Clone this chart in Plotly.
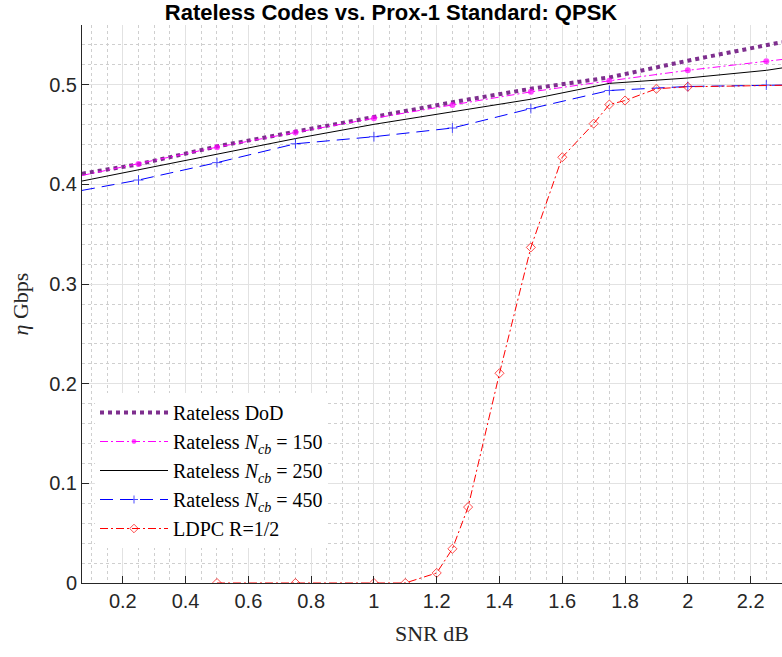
import plotly.graph_objects as go

# Throughput (Gbps) versus SNR (dB) for rateless codes and the Prox-1 LDPC code
snr = [0.07, 0.25, 0.5, 0.75, 1.0, 1.25, 1.5, 1.75, 2.0, 2.25, 2.3]
eta_dod = [0.4108, 0.4202, 0.4381, 0.4529, 0.4670, 0.4825, 0.4960, 0.5074, 0.5242, 0.5398, 0.5428]
eta_ncb150 = [0.4090, 0.4206, 0.4374, 0.4522, 0.4664, 0.4798, 0.4929, 0.5040, 0.5145, 0.5236, 0.5254]
eta_ncb250 = [0.4034, 0.4146, 0.4302, 0.4460, 0.4603, 0.4731, 0.4855, 0.5014, 0.5068, 0.5145, 0.5169]
eta_ncb450 = [0.3940, 0.4044, 0.4219, 0.4408, 0.4479, 0.4566, 0.4761, 0.4943, 0.4983, 0.4997, 0.4997]

snr_ldpc = [0.5, 0.75, 1.0, 1.1, 1.2, 1.25, 1.3, 1.4, 1.5, 1.6, 1.7, 1.75, 1.8, 1.9, 2.0, 2.3]
eta_ldpc = [0.0, 0.0, 0.0, 0.0, 0.0101, 0.0343, 0.0762, 0.2105, 0.3368, 0.4273,
            0.4610, 0.4802, 0.4842, 0.4960, 0.4980, 0.4995]

x_ticks = [0.2, 0.4, 0.6, 0.8, 1.0, 1.2, 1.4, 1.6, 1.8, 2.0, 2.2]
x_tick_text = ["0.2", "0.4", "0.6", "0.8", "1", "1.2", "1.4", "1.6", "1.8", "2", "2.2"]
y_ticks = [0, 0.1, 0.2, 0.3, 0.4, 0.5]
y_tick_text = ["0", "0.1", "0.2", "0.3", "0.4", "0.5"]

# markers only on the simulated points, not on the axis-edge points
def edge_sizes(xs, size):
    return [0 if (v < 0.2 or v > 2.29) else size for v in xs]

SERIF = "Liberation Serif"
SANS = "Liberation Sans"
AXC = "#262626"

fig = go.Figure()

fig.add_trace(go.Scatter(
    x=snr, y=eta_dod, mode="lines", name="Rateless DoD",
    line=dict(color="#7E2F8E", width=4, dash="4px,4px"),
))
fig.add_trace(go.Scatter(
    x=snr, y=eta_ncb150, mode="lines+markers",
    name="Rateless <i>N</i><sub><i>cb</i></sub> = 150",
    line=dict(color="#FF00FF", width=1, dash="8px,3px,2px,3px"),
    marker=dict(symbol="circle", size=edge_sizes(snr, 6), color="#FF00FF",
                line=dict(width=0)),
))
fig.add_trace(go.Scatter(
    x=snr, y=eta_ncb250, mode="lines",
    name="Rateless <i>N</i><sub><i>cb</i></sub> = 250",
    line=dict(color="#000000", width=1),
))
fig.add_trace(go.Scatter(
    x=snr, y=eta_ncb450, mode="lines+markers",
    name="Rateless <i>N</i><sub><i>cb</i></sub> = 450",
    line=dict(color="#0000FF", width=1, dash="13px,7px"),
    marker=dict(symbol="cross-thin", size=edge_sizes(snr, 7),
                line=dict(color="#0000FF", width=1)),
))
fig.add_trace(go.Scatter(
    x=snr_ldpc, y=eta_ldpc, mode="lines+markers", name="LDPC R=1/2",
    line=dict(color="#FF0000", width=1, dash="8px,3px,2px,3px"),
    marker=dict(symbol="diamond-open", size=edge_sizes(snr_ldpc, 7),
                color="#FF0000", line=dict(color="#FF0000", width=1)),
))

axis_common = dict(
    showline=True, linecolor=AXC, linewidth=1, mirror=False,
    ticks="inside", ticklen=7, tickcolor=AXC, tickwidth=1,
    showgrid=True, gridcolor="#E2E2E2", gridwidth=1,
    zeroline=False,
    tickfont=dict(family=SANS, size=20, color=AXC),
)

fig.update_layout(
    width=782, height=657,
    margin=dict(l=82, r=0, t=25, b=74),
    paper_bgcolor="white", plot_bgcolor="white",
    title=dict(text="<b>Rateless Codes vs. Prox-1 Standard: QPSK</b>",
               x=0.5, xref="container", xanchor="center",
               y=1 - 12 / 657, yref="container", yanchor="middle",
               font=dict(family=SANS, size=22, color="#000000")),
    xaxis=dict(
        range=[0.07, 2.3], tickmode="array", tickvals=x_ticks, ticktext=x_tick_text,
        minor=dict(dtick=0.05, tick0=0, showgrid=True, gridcolor="#CFCFCF",
                   griddash="dot", gridwidth=1, ticks=""),
        title=dict(text="SNR dB", font=dict(family=SERIF, size=22, color=AXC),
                   standoff=14),
        **axis_common,
    ),
    yaxis=dict(
        range=[0, 0.56], tickmode="array", tickvals=y_ticks, ticktext=y_tick_text,
        minor=dict(dtick=0.02, tick0=0, showgrid=True, gridcolor="#CFCFCF",
                   griddash="dot", gridwidth=1, ticks=""),
        title=dict(text="<i>η</i> Gbps", font=dict(family=SERIF, size=22, color=AXC),
                   standoff=14),
        **axis_common,
    ),
    legend=dict(
        x=(95 - 82) / 700, y=(583 - 393) / 558, xanchor="left", yanchor="top",
        bgcolor="white", borderwidth=0,
        font=dict(family=SERIF, size=20, color="#000000"),
        itemwidth=68, tracegroupgap=0,
    ),
    showlegend=True,
)

fig.write_html("out.html")
